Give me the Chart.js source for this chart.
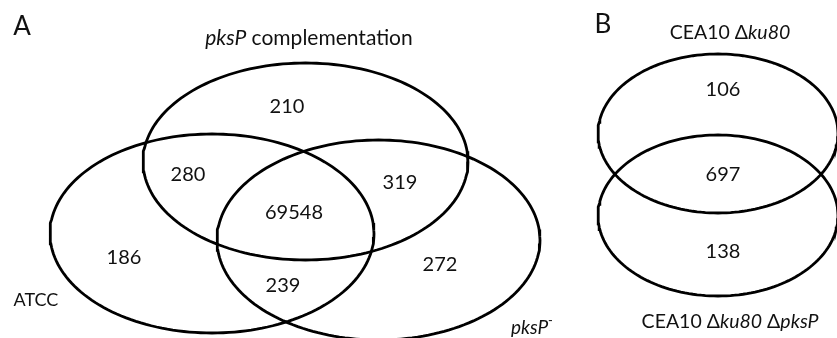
<!DOCTYPE html>
<html>
<head>
<meta charset="utf-8">
<script src="https://cdn.jsdelivr.net/npm/chart.js@4"></script>
<style>
  html, body { margin: 0; padding: 0; background: #fff; }
  #venn { display: block; }
</style>
</head>
<body>
<canvas id="venn" width="837" height="338"></canvas>
<script>
// ── Data ──────────────────────────────────────
// set ellipses: centre x/y and radii, in plot units (same as pixels)
const setNames  = ['pksP complementation', 'ATCC', 'pksP-', 'CEA10 Δku80', 'CEA10 Δku80 ΔpksP'];
const setCx     = [305.5, 212, 378.5, 718, 718];
const setCy     = [161.5, 233.5, 240, 133.5, 215.5];
const setRx     = [162.5, 162, 161.5, 120, 120];
const setRy     = [98.5, 99.5, 100, 79.5, 80.5];

// region counts and where they sit
const counts    = [210, 280, 319, 69548, 186, 239, 272, 106, 697, 138];
const countX    = [287, 188, 400, 294, 124, 283, 440, 723, 723, 723];
const countY    = [107, 175, 183, 213, 258, 286, 265, 90, 175, 252];

// text labels: segments of [text, italic, 'sup']
const labels = [
  { x: 22,  y: 27,  size: 26, parts: [['A', false]] },
  { x: 603, y: 25,  size: 26, parts: [['B', false]] },
  { x: 309, y: 38,  size: 21, parts: [['pksP', true], [' complementation', false]] },
  { x: 36,  y: 300, size: 18, parts: [['ATCC', false]] },
  { x: 532, y: 328, size: 19, parts: [['pksP', true], ['-', false, 'sup']] },
  { x: 730, y: 33,  size: 19.5, parts: [['CEA10 Δ', false], ['ku80', true]] },
  { x: 730, y: 322, size: 19.5, parts: [['CEA10 Δ', false], ['ku80', true], [' Δ', false], ['pksP', true]] }
];

const FONT = 'Lato, "Open Sans", sans-serif';

// ── Ellipse outlines as line datasets ─────────
function ellipsePoints(i) {
  const pts = [];
  const n = 180;
  for (let k = 0; k <= n; k++) {
    const t = (k / n) * Math.PI * 2;
    pts.push({ x: setCx[i] + setRx[i] * Math.cos(t), y: setCy[i] + setRy[i] * Math.sin(t) });
  }
  return pts;
}

const datasets = setNames.map((name, i) => ({
  label: name,
  data: ellipsePoints(i),
  showLine: true,
  borderColor: '#000',
  borderWidth: 2.8,
  pointRadius: 0,
  tension: 0,
  fill: false
}));

datasets.push({
  label: 'counts',
  data: counts.map((c, i) => ({ x: countX[i], y: countY[i], v: c })),
  showLine: false,
  pointRadius: 0
});

// ── Text plugin ───────────────────────────────
const textPlugin = {
  id: 'vennText',
  afterDatasetsDraw(chart) {
    const { ctx, scales: { x, y } } = chart;
    ctx.save();
    ctx.fillStyle = '#111';
    ctx.textBaseline = 'middle';
    ctx.textAlign = 'center';
    ctx.font = `20px ${FONT}`;
    counts.forEach((c, i) => {
      ctx.fillText(String(c), x.getPixelForValue(countX[i]), y.getPixelForValue(countY[i]));
    });

    ctx.textAlign = 'left';
    labels.forEach(l => {
      const fontFor = p => `${p[1] ? 'italic ' : ''}${p[2] === 'sup' ? Math.round(l.size * 0.7) : l.size}px ${FONT}`;
      let w = 0;
      l.parts.forEach(p => { ctx.font = fontFor(p); w += ctx.measureText(p[0]).width; });
      let px = x.getPixelForValue(l.x) - w / 2;
      const py = y.getPixelForValue(l.y);
      l.parts.forEach(p => {
        ctx.font = fontFor(p);
        ctx.fillText(p[0], px, p[2] === 'sup' ? py - l.size * 0.4 : py);
        px += ctx.measureText(p[0]).width;
      });
    });
    ctx.restore();
  }
};

new Chart(document.getElementById('venn'), {
  type: 'scatter',
  data: { datasets },
  options: {
    responsive: false,
    animation: false,
    devicePixelRatio: 1,
    layout: { padding: 0 },
    plugins: { legend: { display: false }, tooltip: { enabled: false } },
    scales: {
      x: { type: 'linear', min: 0, max: 837, display: false },
      y: { type: 'linear', min: 0, max: 338, reverse: true, display: false }
    }
  },
  plugins: [textPlugin]
});
</script>
</body>
</html>
